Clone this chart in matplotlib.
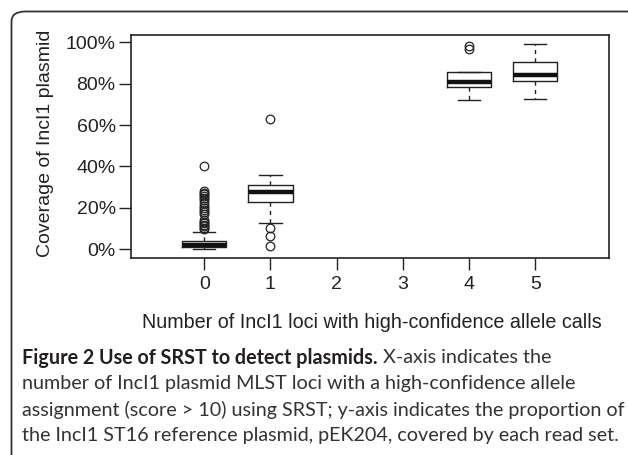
import matplotlib
matplotlib.use("Agg")
import matplotlib.pyplot as plt
from matplotlib.patches import FancyBboxPatch

# ---- data ----
positions = [0, 1, 4, 5]
medians = [2.0, 27.7, 81.0, 84.3]
q1 = [0.8, 22.6, 78.6, 81.5]
q3 = [3.7, 31.0, 85.9, 90.4]
whislo = [0.0, 12.7, 72.2, 72.6]
whishi = [8.1, 35.8, 85.9, 99.3]
fliers0 = [40.3, 28.2, 27.3, 26.4, 25.5, 24.5, 23.5, 22.3, 21.0, 19.8, 18.8,
           17.8, 16.8, 14.0, 13.2, 12.5, 11.8, 11.0, 10.3, 9.6]
fliers1 = [63.0, 10.2, 6.3, 1.6]
fliers4 = [98.5, 96.9]
fliers5 = []
xticks = [0, 1, 2, 3, 4, 5]
xtick_labels = ["0", "1", "2", "3", "4", "5"]
yticks = [0, 20, 40, 60, 80, 100]
ytick_labels = ["0%", "20%", "40%", "60%", "80%", "100%"]
xlabel = "Number of IncI1 loci with high-confidence allele calls"
ylabel = "Coverage of IncI1 plasmid"
cap_bold = "Figure 2 Use of SRST to detect plasmids."
cap_lines = [" X-axis indicates the",
             "number of IncI1 plasmid MLST loci with a high-confidence allele",
             "assignment (score > 10) using SRST; y-axis indicates the proportion of",
             "the IncI1 ST16 reference plasmid, pEK204, covered by each read set."]

W, H = 628, 455
fig = plt.figure(figsize=(W / 100, H / 100), dpi=100)

def fx(px):
    return px / W

def fy(py):
    return 1 - py / H

# rounded frame (extends beyond right/bottom edges)
frame = FancyBboxPatch((fx(11.5), fy(470)), fx(660 - 11.5), (470 - 11.5) / H,
                       boxstyle="round,pad=0,rounding_size=0.022",
                       transform=fig.transFigure, fill=False,
                       edgecolor="#333333", linewidth=1.3, clip_on=False)
fig.patches.append(frame)

ax = fig.add_axes([fx(131), fy(257.7), fx(608.7 - 131), (257.7 - 35) / H])

fliers = [fliers0, fliers1, fliers4, fliers5]
stats = []
for i in range(len(positions)):
    stats.append(dict(med=medians[i], q1=q1[i], q3=q3[i], whislo=whislo[i],
                      whishi=whishi[i], fliers=fliers[i]))

lc = "#222222"
ax.bxp(stats, positions=positions, widths=0.67, capwidths=0.335,
       boxprops=dict(color=lc, linewidth=1.0),
       medianprops=dict(color="#111111", linewidth=3.2, solid_capstyle="butt"),
       whiskerprops=dict(color=lc, linewidth=1.0, linestyle=(0, (3, 3))),
       capprops=dict(color=lc, linewidth=1.0),
       flierprops=dict(marker="o", markerfacecolor="none", markeredgecolor=lc,
                       markersize=6.2, markeredgewidth=0.9))

ax.set_xlim(-1.106, 6.11)
ax.set_ylim(-4.2, 103.6)
ax.set_xticks(xticks)
ax.set_xticklabels(xtick_labels)
ax.set_yticks(yticks)
ax.set_yticklabels(ytick_labels)
for s in ax.spines.values():
    s.set_linewidth(1.2)
    s.set_color(lc)
ax.tick_params(axis="both", direction="out", length=8.6, width=1.0, color=lc,
               labelcolor="#222222", labelsize=14)
ax.tick_params(axis="x", pad=4.5)
ax.tick_params(axis="y", pad=2.4)
for lab in ax.get_xticklabels() + ax.get_yticklabels():
    lab.set_fontfamily("Liberation Sans")

fig.text(fx(46), fy(143), ylabel, rotation=90, ha="center", va="center",
         fontsize=14.0, family="Liberation Sans", color="#222222")
fig.text(fx(371.5), fy(322), xlabel, ha="center", va="center",
         fontsize=14.2, family="Liberation Sans", color="#222222")

# caption
cap_family = "Lato"
cap_size = 14.2
cap_y = [356, 382, 408, 434]
x0 = fx(22)
t_b = fig.text(x0, fy(cap_y[0]), cap_bold, ha="left", va="center_baseline",
               fontsize=cap_size, family=cap_family, fontweight="bold",
               color="#231f20")
fig.canvas.draw()
r = fig.canvas.get_renderer()
bb = t_b.get_window_extent(renderer=r)
fig.text(bb.x1 / W, fy(cap_y[0]), cap_lines[0], ha="left", va="center_baseline",
         fontsize=cap_size, family=cap_family, color="#333333")
for i in range(1, 4):
    fig.text(x0, fy(cap_y[i]), cap_lines[i], ha="left", va="center_baseline",
             fontsize=cap_size, family=cap_family, color="#333333")

fig.savefig("out.png", dpi=100)
